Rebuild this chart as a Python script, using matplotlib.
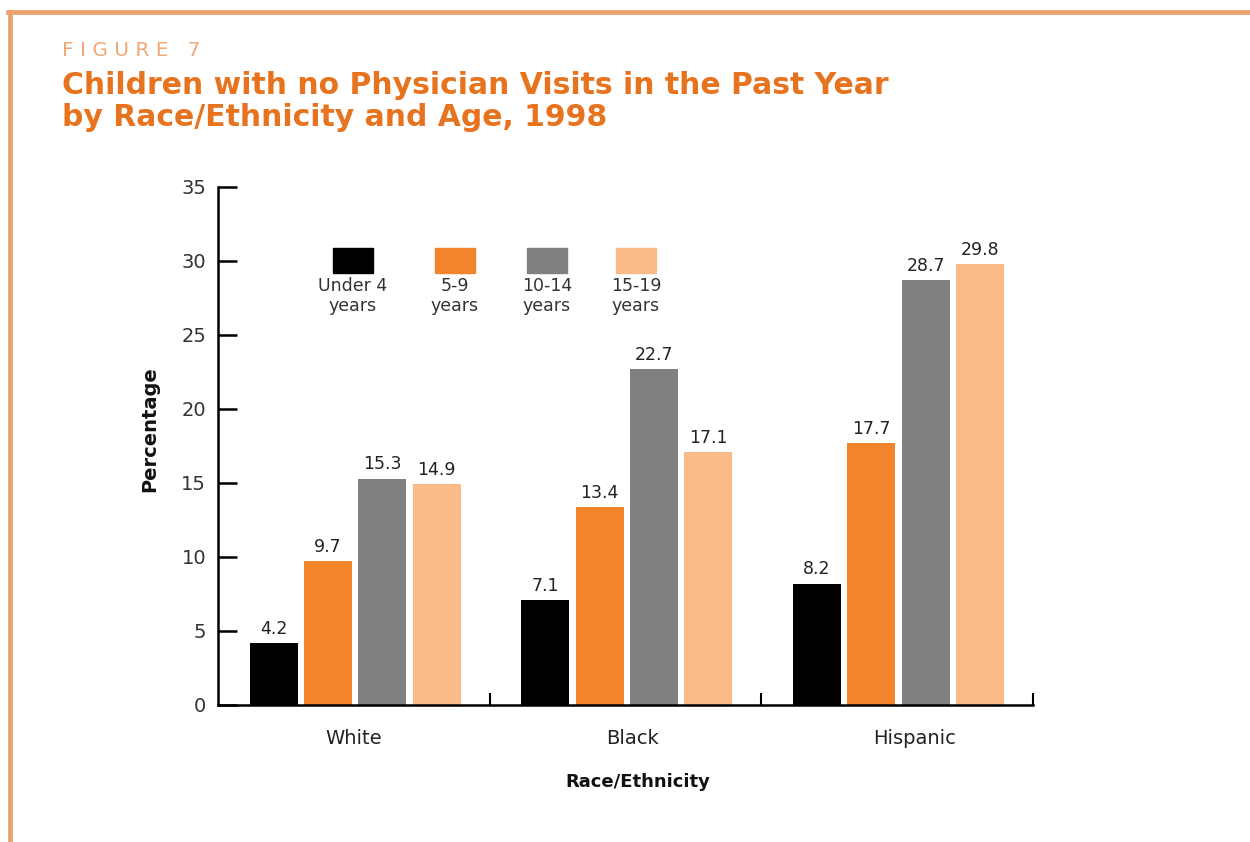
import matplotlib
matplotlib.use("Agg")
import matplotlib.pyplot as plt
from matplotlib.patches import Rectangle
from matplotlib.lines import Line2D
import numpy as np

categories = ["White", "Black", "Hispanic"]
series_names = ["Under 4\nyears", "5-9\nyears", "10-14\nyears", "15-19\nyears"]
under4 = [4.2, 7.1, 8.2]
age5_9 = [9.7, 13.4, 17.7]
age10_14 = [15.3, 22.7, 28.7]
age15_19 = [14.9, 17.1, 29.8]
series = [under4, age5_9, age10_14, age15_19]
colors = ["#000000", "#F2842C", "#808080", "#FBBB88"]
yticks = [0, 5, 10, 15, 20, 25, 30, 35]

plt.rcParams['font.family'] = ['DejaVu Sans']

fig = plt.figure(figsize=(12.5, 8.42), dpi=100)

# frame border
border_col = "#EBA36E"
fig.add_artist(Line2D([8/1250, 1.0], [1-12/842, 1-12/842], color=border_col, lw=3.4, transform=fig.transFigure))
fig.add_artist(Line2D([10/1250, 10/1250], [0, 1-12/842], color=border_col, lw=3.4, transform=fig.transFigure))

# titles
fig.text(62/1250, 1-50/842, "F I G U R E   7", color="#F0A878", fontsize=14.5, va="center", ha="left")
fig.text(62/1250, 1-86/842, "Children with no Physician Visits in the Past Year", color="#E8731E",
         fontsize=21.5, fontweight="bold", va="center", ha="left")
fig.text(62/1250, 1-118/842, "by Race/Ethnicity and Age, 1998", color="#E8731E",
         fontsize=21.5, fontweight="bold", va="center", ha="left")

ax = fig.add_axes([218/1250, 137/842, (1033-218)/1250, (655-137)/842])
x = np.arange(len(categories))
step = 0.2
width = 0.177
for i, (vals, col) in enumerate(zip(series, colors)):
    pos = x + (i - 1.5) * step + 0.005
    ax.bar(pos, vals, width=width, color=col, zorder=2)
    for xp, v in zip(pos, vals):
        ax.text(xp, v + 0.35, f"{v:.1f}", ha="center", va="bottom", fontsize=12.5, color="#222222")

ax.set_xlim(-0.5, 2.5)
ax.set_ylim(0, 35)
ax.set_yticks(yticks)
ax.set_yticklabels([str(t) for t in yticks], fontsize=14, color="#333333")
ax.tick_params(axis="y", direction="in", length=14, width=1.8, pad=8.5, color="black")
ax.set_xticks([0.5, 1.5, 2.5])
ax.set_xticklabels([])
ax.tick_params(axis="x", direction="in", length=9, width=1.5, color="black")
for s in ["top", "right"]:
    ax.spines[s].set_visible(False)
ax.spines["left"].set_linewidth(1.8)
ax.spines["bottom"].set_linewidth(1.8)

label_shift = [0.0, 0.026, 0.063]
for xi, c, sh in zip(x, categories, label_shift):
    ax.text(xi + sh, -2.25, c, ha="center", va="center", fontsize=14, color="#222222")

fig.text(150/1250, 1-429/842, "Percentage", rotation=90, ha="center", va="center",
         fontsize=14, fontweight="bold", color="#111111")
fig.text(638/1250, 1-782/842, "Race/Ethnicity", ha="center", va="center", fontsize=13,
         fontweight="bold", color="#111111")

# legend
leg_x = [333, 435, 527, 616]
for lx, col, name in zip(leg_x, colors, series_names):
    fig.add_artist(Rectangle((lx/1250, 1-273/842), 40/1250, 25/842, color=col, transform=fig.transFigure))
    fig.text((lx+20)/1250, 1-296/842, name, ha="center", va="center", fontsize=12.5,
             color="#333333", linespacing=1.2)

fig.savefig("out.png", dpi=100, facecolor="white")
